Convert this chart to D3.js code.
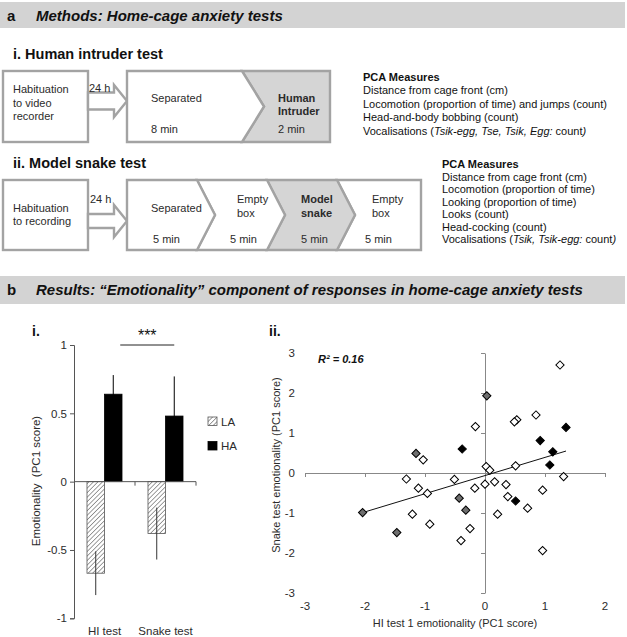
<!DOCTYPE html>
<html><head><meta charset="utf-8">
<script src="https://cdn.jsdelivr.net/npm/d3@7"></script>
<style>
body{margin:0;background:#fff;}
svg{display:block;font-family:"Liberation Sans",Arial,Helvetica,sans-serif;}
</style></head>
<body>
<svg id="c" width="627" height="637"></svg>
<script>
// ---------- DATA ----------
const barCategories = ["HI test", "Snake test"];
const barGroups = ["LA", "HA"];
const laMeans = [-0.67, -0.38];
const haMeans = [0.64, 0.48];
const laErr = [0.16, 0.19];
const haErr = [0.14, 0.29];
const barTicks = [-1, -0.5, 0, 0.5, 1];
const barTickLabels = ["-1", "-0.5", "0", "0.5", "1"];

const scatterXTicks = [-3, -2, -1, 0, 1, 2];
const scatterYTicks = [-3, -2, -1, 0, 1, 2, 3];
const openX = [1.25,0.53,0.49,0.85,-0.16,-1.03,0.02,0.08,0.51,1.31,-1.31,-0.51,0.16,0.0,0.35,-1.11,-0.17,0.96,-0.96,0.38,0.71,-1.21,0.21,-0.92,-0.25,-0.40,0.96];
const openY = [2.70,1.33,1.28,1.45,1.16,0.33,0.16,0.07,0.18,-0.09,-0.15,-0.16,-0.22,-0.28,-0.29,-0.38,-0.38,-0.43,-0.51,-0.59,-0.88,-1.03,-1.03,-1.28,-1.39,-1.69,-1.94];
const grayX = [0.03,-1.15,-0.43,-0.32,-2.04,-1.47];
const grayY = [1.93,0.49,-0.63,-0.93,-0.99,-1.49];
const blackX = [1.35,0.92,1.13,-0.38,1.08,0.51];
const blackY = [1.14,0.81,0.53,0.60,0.20,-0.70];
const trendSlope = 0.454;
const trendIntercept = -0.064;
const trendXRange = [-2.04, 1.35];
const rSquaredLabel = "R² = 0.16";

// ---------- SETUP ----------
const svg = d3.select("#c");
const TXT = "#2b2b2b";
const BOX = "#a3a3a3";
const SHADE = "#d5d5d5";

// Banners
function banner(y0, h, letter, title, by) {
  svg.append("rect").attr("x", 0).attr("y", y0).attr("width", 625).attr("height", h).attr("fill", "#d3d3d3");
  svg.append("text").attr("x", 7).attr("y", by).attr("font-size", 15).attr("font-weight", "bold").attr("fill", "#111").text(letter);
  svg.append("text").attr("x", 36).attr("y", by).attr("font-size", 15).attr("font-weight", "bold").attr("font-style", "italic").attr("fill", "#111").text(title);
}
banner(2, 26, "a", "Methods: Home-cage anxiety tests", 21);
banner(276, 28, "b", "Results: \u201cEmotionality\u201d component of responses in home-cage anxiety tests", 295);

function txt(x, y, s, opts = {}) {
  const t = svg.append("text").attr("x", x).attr("y", y).attr("font-size", opts.size || 11)
    .attr("fill", opts.fill || TXT).text(s);
  if (opts.bold) t.attr("font-weight", "bold");
  if (opts.italic) t.attr("font-style", "italic");
  if (opts.anchor) t.attr("text-anchor", opts.anchor);
  return t;
}

txt(13, 59, "i. Human intruder test", { size: 14.5, bold: true, fill: "#111" });
txt(13, 168, "ii. Model snake test", { size: 14.5, bold: true, fill: "#111" });

// Diagram helpers
function poly(pts, fill) {
  svg.append("polygon").attr("points", pts.map(p => p.join(",")).join(" "))
    .attr("fill", fill).attr("stroke", BOX).attr("stroke-width", 2.4).attr("stroke-linejoin", "miter");
}
function arrow(x0, x1, cy, sh, hh, hl) {
  const xb = x1 - hl;
  poly([[x0, cy - sh], [xb, cy - sh], [xb, cy - hh], [x1, cy], [xb, cy + hh], [xb, cy + sh], [x0, cy + sh]], "#fff");
}
function chevron(L, R, top, bot, d, leftNotch, rightTip, fill) {
  const mid = (top + bot) / 2;
  const pts = [[L, top], [R, top]];
  if (rightTip) pts.push([R + d, mid]);
  pts.push([R, bot], [L, bot]);
  if (leftNotch) pts.push([L + d, mid]);
  poly(pts, fill);
}

// Row 1
svg.append("rect").attr("x", 3).attr("y", 71).attr("width", 85).attr("height", 71).attr("fill", "#fff").attr("stroke", BOX).attr("stroke-width", 2.4);
arrow(88, 127, 101, 8.5, 16, 13);
chevron(242, 330, 71, 142, 22, true, false, SHADE);
chevron(127, 242, 71, 142, 22, false, true, "#fff");
txt(13, 93, "Habituation"); txt(13, 107, "to video"); txt(13, 120, "recorder");
txt(89, 92, "24 h");
txt(151, 102, "Separated"); txt(151, 133, "8 min");
txt(278, 102, "Human", { bold: true }); txt(278, 115, "Intruder", { bold: true }); txt(278, 133, "2 min");

// Row 2
svg.append("rect").attr("x", 3).attr("y", 180).attr("width", 85).attr("height", 70).attr("fill", "#fff").attr("stroke", BOX).attr("stroke-width", 2.4);
arrow(88, 127, 221, 7, 16, 13);
const segL = [127, 197, 267, 337], segR = [197, 267, 337, 421];
const segFill = ["#fff", "#fff", SHADE, "#fff"];
for (let i = segL.length - 1; i >= 0; i--) {
  chevron(segL[i], segR[i], 180, 250, 18, i > 0, i < segL.length - 1, segFill[i]);
}
txt(13, 212, "Habituation"); txt(13, 225, "to recording");
txt(90, 203, "24 h");
txt(151, 212, "Separated"); txt(153, 243, "5 min");
txt(237, 203, "Empty"); txt(237, 217, "box"); txt(230, 243, "5 min");
txt(301, 203, "Model", { bold: true }); txt(301, 217, "snake", { bold: true }); txt(301, 243, "5 min");
txt(372, 203, "Empty"); txt(372, 217, "box"); txt(365, 243, "5 min");

// PCA text blocks
function pca(x, y0, dy, lines) {
  txt(x, y0, "PCA Measures", { bold: true, fill: "#111" });
  lines.forEach((ln, i) => {
    const t = svg.append("text").attr("x", x).attr("y", y0 + dy * (i + 1)).attr("font-size", 11).attr("fill", "#111");
    ln.forEach(seg => {
      const ts = t.append("tspan").text(seg[0]);
      if (seg[1]) ts.attr("font-style", "italic");
    });
  });
}
pca(363, 81, 13.4, [
  [["Distance from cage front (cm)"]],
  [["Locomotion (proportion of time) and jumps (count)"]],
  [["Head-and-body bobbing (count)"]],
  [["Vocalisations ("], ["Tsik-egg, Tse, Tsik, Egg:", 1], [" count"], [")", 1]]
]);
pca(442, 168, 12.5, [
  [["Distance from cage front (cm)"]],
  [["Locomotion (proportion of time)"]],
  [["Looking (proportion of time)"]],
  [["Looks (count)"]],
  [["Head-cocking (count)"]],
  [["Vocalisations ("], ["Tsik, Tsik-egg:", 1], [" count"], [")", 1]]
]);

// ---------- BAR CHART ----------
txt(32, 336, "i.", { size: 14, bold: true, fill: "#111" });
const yb = d3.scaleLinear().domain([-1, 1]).range([618.3, 345]);
const xb = d3.scaleBand().domain(barCategories).range([74, 196]).paddingInner(0.426).paddingOuter(0.213);
const xs = d3.scaleBand().domain(barGroups).range([0, xb.bandwidth()]);

const defs = svg.append("defs");
const pat = defs.append("pattern").attr("id", "hatch").attr("patternUnits", "userSpaceOnUse")
  .attr("width", 3.2).attr("height", 3.2).attr("patternTransform", "rotate(45)");
pat.append("rect").attr("width", 3.2).attr("height", 3.2).attr("fill", "#fff");
pat.append("line").attr("x1", 0).attr("y1", 0).attr("x2", 0).attr("y2", 3.2).attr("stroke", "#777").attr("stroke-width", 1.4);

const barData = [];
barCategories.forEach((c, i) => {
  barData.push({ cat: c, grp: "LA", v: laMeans[i], e: laErr[i] });
  barData.push({ cat: c, grp: "HA", v: haMeans[i], e: haErr[i] });
});
const bg = svg.append("g");
bg.selectAll("rect.bar").data(barData).join("rect")
  .attr("x", d => xb(d.cat) + xs(d.grp))
  .attr("width", xs.bandwidth())
  .attr("y", d => yb(Math.max(0, d.v)))
  .attr("height", d => Math.abs(yb(d.v) - yb(0)))
  .attr("fill", d => d.grp === "HA" ? "#000" : "url(#hatch)")
  .attr("stroke", d => d.grp === "HA" ? "#000" : "#555")
  .attr("stroke-width", 0.8);
bg.selectAll("line.err").data(barData).join("line")
  .attr("x1", d => xb(d.cat) + xs(d.grp) + xs.bandwidth() / 2)
  .attr("x2", d => xb(d.cat) + xs(d.grp) + xs.bandwidth() / 2)
  .attr("y1", d => yb(d.v - d.e)).attr("y2", d => yb(d.v + d.e))
  .attr("stroke", d => d.grp === "HA" ? "#000" : "#333").attr("stroke-width", 1);

const yAxisB = svg.append("g").attr("transform", "translate(74,0)")
  .call(d3.axisLeft(yb).tickValues(barTicks).tickFormat((d, i) => barTickLabels[i]).tickSize(4).tickPadding(3));
yAxisB.selectAll("text").attr("font-size", 11.5).attr("fill", TXT).attr("font-family", null);
yAxisB.selectAll("line,path").attr("stroke", "#555");
// x axis at zero
svg.append("line").attr("x1", 74).attr("x2", 196).attr("y1", yb(0)).attr("y2", yb(0)).attr("stroke", "#555");
const catEdges = barCategories.map(c => xb(c) + xb.bandwidth() + xb.step() * xb.paddingInner() / 2);
svg.selectAll("line.ct").data(catEdges).join("line").attr("x1", d => d).attr("x2", d => d)
  .attr("y1", yb(0)).attr("y2", yb(0) + 4).attr("stroke", "#555");
svg.selectAll("text.cat").data(barCategories).join("text")
  .attr("x", d => xb(d) + xb.bandwidth() / 2).attr("y", 635).attr("text-anchor", "middle")
  .attr("font-size", 11.5).attr("fill", TXT).text(d => d);
svg.append("text").attr("transform", "translate(40,481) rotate(-90)").attr("text-anchor", "middle")
  .attr("font-size", 11.5).attr("fill", TXT).attr("xml:space", "preserve").text("Emotionality  (PC1 score)");

// significance bracket
const sigX1 = xb("HI test") + xs("HA") + xs.bandwidth() / 2 + 7;
const sigX2 = xb("Snake test") + xs("HA") + xs.bandwidth() / 2;
svg.append("line").attr("x1", sigX1).attr("x2", sigX2).attr("y1", yb(1)).attr("y2", yb(1)).attr("stroke", "#222");
txt((sigX1 + sigX2) / 2, 341, "***", { size: 16, anchor: "middle", fill: "#111" });

// legend
barGroups.forEach((g, i) => {
  const ly = 417 + i * 24.5;
  svg.append("rect").attr("x", 208).attr("y", ly).attr("width", 9).attr("height", 8.5)
    .attr("fill", g === "HA" ? "#000" : "url(#hatch)").attr("stroke", g === "HA" ? "#000" : "#555").attr("stroke-width", 0.8);
  txt(221, ly + 8.5, g, { size: 11.5 });
});

// ---------- SCATTER ----------
txt(269, 336, "ii.", { size: 14, bold: true, fill: "#111" });
const xsc = d3.scaleLinear().domain([-3, 2]).range([305, 605]);
const ysc = d3.scaleLinear().domain([-3, 3]).range([593, 353]);
const AX = "#888";
const xAx = svg.append("g").attr("transform", `translate(0,${ysc(0)})`)
  .call(d3.axisBottom(xsc).tickValues(scatterXTicks).tickFormat("").tickSize(4).tickSizeOuter(0));
xAx.selectAll("line,path").attr("stroke", AX);
const yAx = svg.append("g").attr("transform", `translate(${xsc(0)},0)`)
  .call(d3.axisLeft(ysc).tickValues(scatterYTicks).tickFormat("").tickSize(4).tickSizeOuter(0));
yAx.selectAll("line,path").attr("stroke", AX);
svg.selectAll("text.sx").data(scatterXTicks).join("text").attr("x", d => xsc(d)).attr("y", 610)
  .attr("text-anchor", "middle").attr("font-size", 11.5).attr("fill", TXT).text(d => d < 0 ? "-" + Math.abs(d) : d);
svg.selectAll("text.sy").data(scatterYTicks).join("text").attr("x", 295).attr("y", d => ysc(d) + 4)
  .attr("text-anchor", "end").attr("font-size", 11.5).attr("fill", TXT).text(d => d < 0 ? "-" + Math.abs(d) : d);
svg.append("text").attr("x", 455).attr("y", 627).attr("text-anchor", "middle").attr("font-size", 11).attr("fill", TXT)
  .text("HI test 1 emotionality (PC1 score)");
svg.append("text").attr("transform", "translate(280,465) rotate(-90)").attr("text-anchor", "middle")
  .attr("font-size", 11).attr("fill", TXT).text("Snake test emotionality (PC1 score)");
txt(318, 363, rSquaredLabel, { size: 11, bold: true, italic: true, fill: "#111" });

// trend line
svg.append("line")
  .attr("x1", xsc(trendXRange[0])).attr("y1", ysc(trendSlope * trendXRange[0] + trendIntercept))
  .attr("x2", xsc(trendXRange[1])).attr("y2", ysc(trendSlope * trendXRange[1] + trendIntercept))
  .attr("stroke", "#111").attr("stroke-width", 1);

const pts = [];
openX.forEach((x, i) => pts.push({ x, y: openY[i], f: "#fff" }));
grayX.forEach((x, i) => pts.push({ x, y: grayY[i], f: "#6e6e6e" }));
blackX.forEach((x, i) => pts.push({ x, y: blackY[i], f: "#000" }));
const sym = d3.symbol().type(d3.symbolSquare).size(34);
svg.selectAll("path.pt").data(pts).join("path")
  .attr("d", sym)
  .attr("transform", d => `translate(${xsc(d.x)},${ysc(d.y)}) rotate(45)`)
  .attr("fill", d => d.f).attr("stroke", "#000").attr("stroke-width", 1);
</script>
</body></html>
